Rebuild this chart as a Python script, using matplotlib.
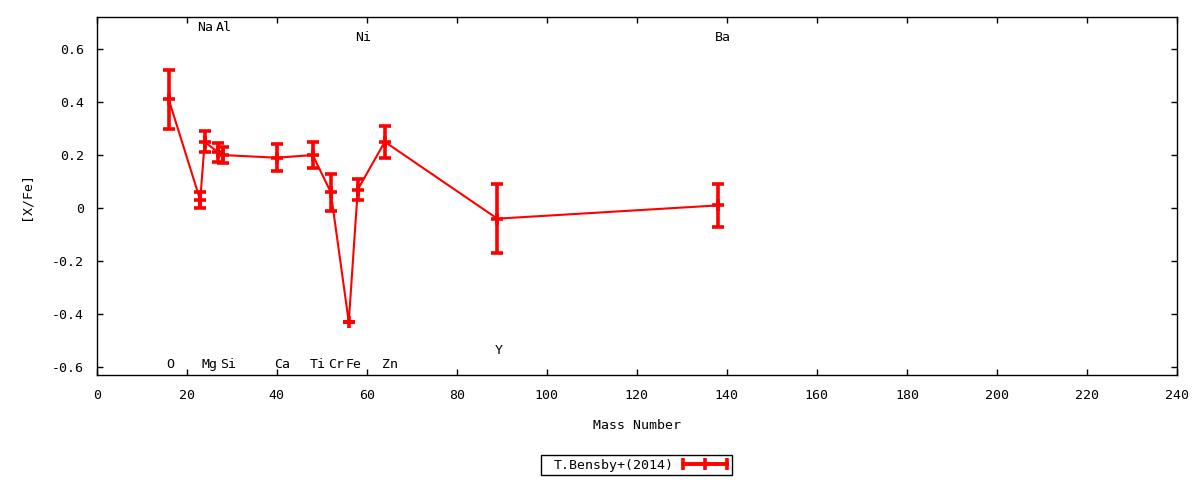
import matplotlib
matplotlib.use('Agg')
import matplotlib.pyplot as plt
from matplotlib.lines import Line2D
from matplotlib.patches import Rectangle
from matplotlib.legend_handler import HandlerLine2D

elements = ['O', 'Na', 'Mg', 'Al', 'Si', 'Ca', 'Ti', 'Cr', 'Fe', 'Ni', 'Zn', 'Y', 'Ba']
mass = [16, 23, 24, 27, 28, 40, 48, 52, 56, 58, 64, 89, 138]
xfe = [0.41, 0.03, 0.25, 0.21, 0.20, 0.19, 0.20, 0.06, -0.43, 0.07, 0.25, -0.04, 0.01]
err = [0.11, 0.03, 0.04, 0.035, 0.03, 0.05, 0.05, 0.07, 0.0, 0.04, 0.06, 0.13, 0.08]
label_y = [-0.589, 0.683, -0.589, 0.683, -0.589, -0.589, -0.589, -0.589, -0.589,
           0.645, -0.589, -0.536, 0.645]
xticks = [0, 20, 40, 60, 80, 100, 120, 140, 160, 180, 200, 220, 240]
yticks = [-0.6, -0.4, -0.2, 0, 0.2, 0.4, 0.6]
ytick_labels = ['-0.6', '-0.4', '-0.2', '0', '0.2', '0.4', '0.6']
series_name = 'T.Bensby+(2014)'

plt.rcParams['font.family'] = ['DejaVu Sans Mono']
plt.rcParams['font.size'] = 9.5

W, H = 1200, 480
fig = plt.figure(figsize=(W / 100, H / 100), dpi=100)
left, right, top, bottom = 96.7, 1177, 17, 375
ax = fig.add_axes([left / W, 1 - bottom / H, (right - left) / W, (bottom - top) / H])

red = '#ff0000'
ax.errorbar(mass, xfe, yerr=err, color=red, lw=1.5, elinewidth=2.6, capsize=4,
            capthick=2.6, marker='+', markersize=8, mew=2.6, zorder=3)

for el, m, ly in zip(elements, mass, label_y):
    ax.annotate(el, xy=(m, ly), xytext=(-2.0, 0), textcoords='offset points',
                ha='left', va='center', fontsize=9.5, color='black')

ax.set_xlim(0, 240)
ax.set_ylim(-0.630, 0.721)
ax.set_xticks(xticks)
ax.set_xticklabels([str(t) for t in xticks])
ax.set_yticks(yticks)
ax.set_yticklabels(ytick_labels)
ax.tick_params(direction='in', length=4, width=1, top=True, right=True, colors='black')
ax.tick_params(axis='x', pad=10)
ax.tick_params(axis='y', pad=9)
for s in ax.spines.values():
    s.set_linewidth(1)
    s.set_color('black')

ax.set_xlabel('Mass Number', labelpad=12)
ax.set_ylabel('[X/Fe]', labelpad=14)

# legend frame (gnuplot-style key box)
fig.patches.append(Rectangle((540.7 / W, 1 - 475 / H), 191.3 / W, 20 / H,
                             transform=fig.transFigure, fill=False,
                             ec='black', lw=1))
handle = Line2D([], [], color=red, lw=2.8, marker='|', markersize=8.5, mew=2.6)
fs = 9.5 * 100 / 72
leg = fig.legend([handle], [series_name], loc='center left',
                 bbox_to_anchor=(554 / W, 1 - 465 / H), markerfirst=False,
                 frameon=False, handlelength=44 / fs, borderpad=0,
                 handletextpad=8.5 / fs, borderaxespad=0,
                 handler_map={Line2D: HandlerLine2D(marker_pad=0.0, numpoints=3)})

fig.savefig('out.png', dpi=100)
